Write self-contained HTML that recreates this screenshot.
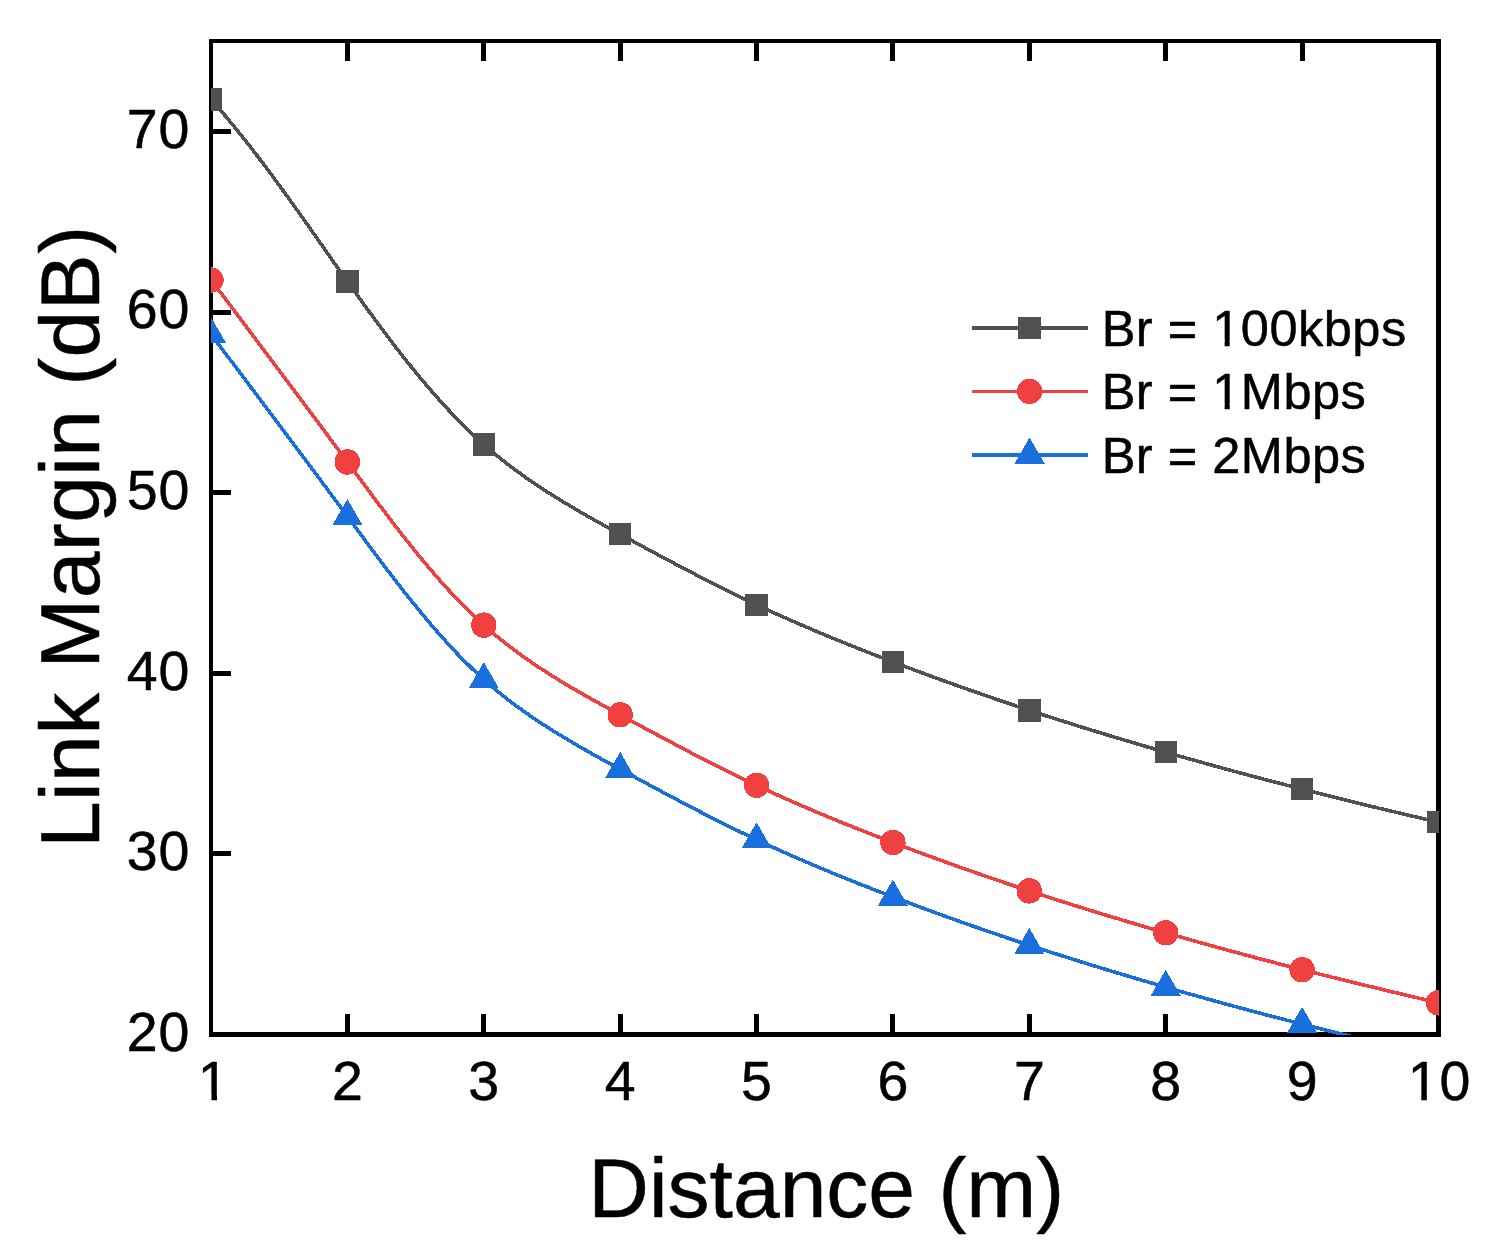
<!DOCTYPE html>
<html lang="en"><head><meta charset="utf-8"><title>Link Margin vs Distance</title>
<style>
html,body{margin:0;padding:0;background:#fff;}
body{width:1494px;height:1257px;overflow:hidden;}
svg{display:block;}
text{font-family:"Liberation Sans",sans-serif;fill:#000;stroke:#000;stroke-width:0.5px;stroke-linejoin:round;}
.tick{font-size:55.5px;letter-spacing:1.1px;}
.title{font-size:84px;}
.leg{font-size:50.5px;letter-spacing:0.5px;}
</style></head><body>
<svg width="1494" height="1257" viewBox="0 0 1494 1257">
<rect x="0" y="0" width="1494" height="1257" fill="#fff"/>
<defs><clipPath id="plot"><rect x="211" y="41" width="1228" height="994"/></clipPath>
<clipPath id="nofoot"><path clip-rule="evenodd" d="M0 0H1494V1257H0ZM200.25 1094.17H211.47V1103.00H200.25ZM216.98 1094.17H227.63V1103.00H216.98ZM1410.07 1094.17H1421.29V1103.00H1410.07ZM1426.79 1094.17H1437.44V1103.00H1426.79ZM1214.47 340.30H1224.65V348.60H1214.47ZM1229.71 340.30H1239.37V348.60H1229.71ZM1214.47 403.90H1224.65V412.20H1214.47ZM1229.71 403.90H1239.37V412.20H1229.71Z"/></clipPath></defs>

<g fill="#000" shape-rendering="crispEdges">
<rect x="209" y="39" width="4" height="998"/>
<rect x="209" y="39" width="1232" height="4"/>
<rect x="1436" y="39" width="5" height="998"/>
<rect x="209" y="1032" width="1232" height="5"/>
<rect x="345" y="43" width="5" height="18"/>
<rect x="345" y="1014" width="5" height="18"/>
<rect x="481" y="43" width="5" height="18"/>
<rect x="481" y="1014" width="5" height="18"/>
<rect x="618" y="43" width="5" height="18"/>
<rect x="618" y="1014" width="5" height="18"/>
<rect x="754" y="43" width="5" height="18"/>
<rect x="754" y="1014" width="5" height="18"/>
<rect x="890" y="43" width="5" height="18"/>
<rect x="890" y="1014" width="5" height="18"/>
<rect x="1027" y="43" width="5" height="18"/>
<rect x="1027" y="1014" width="5" height="18"/>
<rect x="1163" y="43" width="5" height="18"/>
<rect x="1163" y="1014" width="5" height="18"/>
<rect x="1300" y="43" width="5" height="18"/>
<rect x="1300" y="1014" width="5" height="18"/>
<rect x="213" y="851" width="18" height="5"/>
<rect x="213" y="671" width="18" height="5"/>
<rect x="213" y="490" width="18" height="5"/>
<rect x="213" y="310" width="18" height="5"/>
<rect x="213" y="129" width="18" height="5"/>
</g>
<g clip-path="url(#plot)" shape-rendering="crispEdges">
<path d="M211.0,99.4 L213.6,102.3 L216.4,105.5 L219.0,108.5 L221.8,111.8 L224.4,114.8 L227.2,118.1 L229.7,121.2 L232.5,124.5 L235.1,127.7 L237.8,131.1 L240.4,134.2 L243.1,137.7 L245.6,140.8 L248.4,144.3 L250.9,147.6 L253.6,151.1 L256.1,154.3 L258.8,157.9 L261.5,161.5 L264.0,164.8 L266.7,168.4 L269.2,171.7 L271.9,175.3 L274.4,178.7 L277.1,182.3 L279.5,185.7 L282.2,189.4 L284.7,192.8 L287.3,196.5 L289.8,199.9 L292.5,203.6 L294.9,207.1 L297.6,210.8 L300.0,214.2 L302.7,218.0 L305.3,221.7 L307.8,225.2 L310.4,228.9 L312.9,232.4 L315.5,236.2 L318.0,239.6 L320.6,243.4 L323.1,246.9 L325.7,250.7 L328.1,254.1 L330.8,257.9 L333.2,261.4 L335.9,265.1 L338.3,268.6 L341.0,272.4 L343.4,275.8 L346.1,279.6 L348.8,283.3 L351.2,286.8 L353.9,290.5 L356.3,293.9 L359.0,297.7 L361.5,301.1 L364.1,304.8 L366.6,308.2 L369.3,311.9 L371.8,315.2 L374.4,318.9 L376.9,322.3 L379.6,325.9 L382.1,329.2 L384.8,332.8 L387.3,336.2 L390.0,339.7 L392.7,343.3 L395.3,346.6 L398.0,350.1 L400.5,353.3 L403.2,356.8 L405.8,360.0 L408.5,363.5 L411.1,366.6 L413.9,370.1 L416.4,373.2 L419.2,376.6 L421.8,379.6 L424.6,383.0 L427.1,386.0 L430.0,389.3 L432.6,392.3 L435.4,395.5 L438.2,398.7 L440.9,401.6 L443.7,404.8 L446.3,407.6 L449.2,410.7 L451.9,413.5 L454.8,416.6 L457.5,419.3 L460.4,422.3 L463.1,425.0 L466.0,427.9 L468.7,430.5 L471.7,433.4 L474.4,435.9 L477.4,438.7 L480.1,441.2 L483.1,443.9 L485.9,446.4 L488.9,449.0 L492.0,451.5 L494.8,453.9 L497.8,456.4 L500.7,458.7 L503.7,461.1 L506.6,463.4 L509.7,465.7 L512.6,467.9 L515.7,470.2 L518.6,472.3 L521.7,474.6 L524.6,476.7 L527.7,478.9 L530.7,480.9 L533.8,483.1 L536.8,485.0 L539.9,487.2 L543.1,489.2 L546.1,491.2 L549.3,493.2 L552.2,495.1 L555.4,497.1 L558.4,498.9 L561.6,500.9 L564.6,502.7 L567.9,504.6 L570.8,506.4 L574.1,508.3 L577.1,510.1 L580.3,512.0 L583.3,513.7 L586.6,515.6 L589.6,517.3 L592.8,519.1 L596.1,521.0 L599.1,522.6 L602.4,524.5 L605.4,526.1 L608.7,527.9 L611.7,529.6 L615.0,531.4 L618.0,533.0 L621.3,534.8 L624.3,536.5 L627.5,538.3 L630.6,539.9 L633.8,541.7 L636.8,543.3 L640.1,545.1 L643.1,546.7 L646.4,548.5 L649.7,550.3 L652.7,551.9 L656.0,553.7 L659.0,555.3 L662.3,557.0 L665.3,558.6 L668.6,560.4 L671.6,562.0 L674.9,563.7 L677.9,565.3 L681.2,567.0 L684.2,568.6 L687.5,570.3 L690.5,571.9 L693.8,573.6 L696.8,575.2 L700.1,576.9 L703.4,578.6 L706.4,580.1 L709.7,581.8 L712.7,583.3 L716.0,585.0 L719.0,586.5 L722.3,588.2 L725.4,589.7 L728.7,591.3 L731.7,592.8 L735.0,594.4 L738.1,595.9 L741.4,597.5 L744.4,599.0 L747.7,600.6 L750.8,602.0 L754.1,603.6 L757.4,605.1 L760.4,606.6 L763.8,608.1 L766.8,609.5 L770.1,611.0 L773.2,612.4 L776.5,614.0 L779.6,615.3 L782.9,616.8 L786.0,618.2 L789.3,619.7 L792.4,621.0 L795.7,622.5 L798.8,623.8 L802.2,625.3 L805.2,626.6 L808.6,628.0 L811.7,629.4 L815.0,630.8 L818.4,632.2 L821.4,633.5 L824.8,634.9 L827.9,636.2 L831.2,637.5 L834.3,638.8 L837.7,640.2 L840.8,641.4 L844.1,642.8 L847.2,644.1 L850.6,645.4 L853.7,646.6 L857.0,648.0 L860.1,649.2 L863.5,650.5 L866.6,651.8 L870.0,653.1 L873.3,654.4 L876.4,655.6 L879.8,656.9 L882.9,658.1 L886.3,659.4 L889.4,660.6 L892.8,661.9 L895.9,663.1 L899.2,664.3 L902.3,665.5 L905.7,666.8 L908.8,667.9 L912.2,669.2 L915.3,670.4 L918.7,671.6 L921.8,672.8 L925.2,674.0 L928.5,675.3 L931.7,676.4 L935.0,677.6 L938.2,678.8 L941.5,680.0 L944.7,681.1 L948.0,682.3 L951.2,683.4 L954.5,684.7 L957.7,685.8 L961.0,687.0 L964.2,688.1 L967.5,689.3 L970.7,690.4 L974.0,691.5 L977.2,692.6 L980.6,693.8 L983.9,695.0 L987.1,696.1 L990.5,697.2 L993.6,698.3 L997.0,699.5 L1000.1,700.5 L1003.5,701.7 L1006.6,702.7 L1010.0,703.9 L1013.1,704.9 L1016.5,706.1 L1019.7,707.1 L1023.1,708.2 L1026.2,709.3 L1029.6,710.4 L1032.7,711.4 L1036.1,712.5 L1039.5,713.6 L1042.6,714.7 L1046.0,715.8 L1049.2,716.8 L1052.6,717.9 L1055.7,718.9 L1059.1,720.0 L1062.3,721.0 L1065.7,722.0 L1068.8,723.0 L1072.2,724.1 L1075.3,725.1 L1078.7,726.2 L1081.9,727.1 L1085.3,728.2 L1088.4,729.2 L1091.8,730.2 L1095.2,731.3 L1098.4,732.2 L1101.8,733.3 L1104.9,734.2 L1108.3,735.3 L1111.5,736.2 L1114.9,737.2 L1118.0,738.2 L1121.5,739.2 L1124.6,740.2 L1128.0,741.2 L1131.2,742.1 L1134.6,743.1 L1137.7,744.1 L1141.1,745.1 L1144.3,746.0 L1147.7,747.0 L1150.9,747.9 L1154.3,748.9 L1157.7,749.9 L1160.8,750.8 L1164.2,751.8 L1167.4,752.7 L1170.8,753.7 L1174.0,754.6 L1177.4,755.5 L1180.5,756.4 L1184.0,757.4 L1187.1,758.3 L1190.5,759.2 L1193.7,760.1 L1197.1,761.1 L1200.3,762.0 L1203.7,762.9 L1206.8,763.8 L1210.3,764.7 L1213.7,765.7 L1216.8,766.6 L1220.3,767.5 L1223.4,768.4 L1226.8,769.3 L1230.0,770.2 L1233.4,771.1 L1236.6,771.9 L1240.0,772.9 L1243.2,773.7 L1246.6,774.6 L1249.7,775.5 L1253.2,776.4 L1256.3,777.2 L1259.7,778.1 L1262.9,779.0 L1266.3,779.9 L1269.8,780.8 L1272.9,781.6 L1276.4,782.5 L1279.5,783.3 L1282.9,784.2 L1286.1,785.0 L1289.5,785.9 L1292.7,786.7 L1296.1,787.6 L1299.3,788.4 L1302.7,789.3 L1305.9,790.1 L1309.3,791.0 L1312.5,791.8 L1315.9,792.7 L1319.1,793.5 L1322.5,794.3 L1325.9,795.2 L1329.1,796.0 L1332.5,796.8 L1335.7,797.6 L1339.1,798.5 L1342.3,799.3 L1345.7,800.1 L1348.9,800.9 L1352.3,801.7 L1355.5,802.5 L1358.9,803.3 L1362.1,804.1 L1365.5,805.0 L1368.7,805.7 L1372.1,806.6 L1375.3,807.3 L1378.8,808.2 L1382.2,809.0 L1385.4,809.7 L1388.8,810.6 L1392.0,811.3 L1395.4,812.1 L1398.6,812.9 L1402.0,813.7 L1405.2,814.4 L1408.6,815.3 L1411.8,816.0 L1415.2,816.8 L1418.4,817.5 L1421.8,818.3 L1425.0,819.1 L1428.4,819.9 L1431.6,820.6 L1435.1,821.4 L1438.5,822.2" fill="none" stroke="#515151" stroke-width="3.6" stroke-linejoin="round"/>
<rect x="199.8" y="88.2" width="22.4" height="22.4" fill="#515151"/>
<rect x="336.2" y="270.2" width="22.4" height="22.4" fill="#515151"/>
<rect x="472.6" y="433.3" width="22.4" height="22.4" fill="#515151"/>
<rect x="609.0" y="523.0" width="22.4" height="22.4" fill="#515151"/>
<rect x="745.4" y="593.5" width="22.4" height="22.4" fill="#515151"/>
<rect x="881.7" y="650.7" width="22.4" height="22.4" fill="#515151"/>
<rect x="1018.1" y="699.1" width="22.4" height="22.4" fill="#515151"/>
<rect x="1154.5" y="741.0" width="22.4" height="22.4" fill="#515151"/>
<rect x="1290.9" y="778.0" width="22.4" height="22.4" fill="#515151"/>
<rect x="1427.3" y="811.0" width="22.4" height="22.4" fill="#515151"/>
<path d="M211.0,280.0 L213.5,283.3 L216.2,286.8 L218.7,290.2 L221.4,293.7 L223.9,297.0 L226.6,300.6 L229.1,303.9 L231.8,307.5 L234.3,310.8 L237.0,314.4 L239.5,317.7 L242.2,321.3 L244.7,324.6 L247.4,328.2 L249.8,331.5 L252.5,335.1 L255.0,338.4 L257.7,342.0 L260.4,345.6 L262.9,348.9 L265.6,352.5 L268.1,355.8 L270.8,359.4 L273.3,362.7 L276.0,366.3 L278.5,369.6 L281.2,373.2 L283.7,376.6 L286.4,380.1 L288.9,383.5 L291.6,387.1 L294.1,390.4 L296.8,394.0 L299.3,397.3 L301.9,400.9 L304.6,404.5 L307.1,407.9 L309.8,411.5 L312.3,414.8 L315.0,418.4 L317.5,421.8 L320.2,425.4 L322.7,428.7 L325.4,432.3 L327.9,435.7 L330.6,439.3 L333.0,442.6 L335.7,446.3 L338.2,449.6 L340.9,453.2 L343.4,456.6 L346.1,460.2 L348.8,463.9 L351.3,467.2 L353.9,470.9 L356.4,474.2 L359.1,477.9 L361.6,481.2 L364.3,484.8 L366.8,488.2 L369.5,491.8 L372.0,495.2 L374.7,498.8 L377.2,502.1 L379.9,505.7 L382.4,509.0 L385.1,512.6 L387.6,515.9 L390.3,519.5 L393.0,523.0 L395.5,526.3 L398.3,529.8 L400.8,533.0 L403.5,536.5 L406.1,539.8 L408.8,543.2 L411.3,546.4 L414.1,549.8 L416.7,553.0 L419.4,556.4 L422.0,559.5 L424.8,562.8 L427.4,565.9 L430.2,569.2 L432.8,572.2 L435.6,575.5 L438.4,578.7 L441.0,581.7 L443.9,584.9 L446.5,587.8 L449.4,590.9 L452.0,593.8 L454.9,596.8 L457.5,599.6 L460.4,602.6 L463.1,605.4 L466.1,608.3 L468.8,611.0 L471.7,613.8 L474.4,616.4 L477.4,619.2 L480.1,621.8 L483.1,624.5 L485.9,627.0 L488.9,629.6 L491.9,632.2 L494.8,634.6 L497.8,637.1 L500.6,639.4 L503.7,641.9 L506.6,644.1 L509.6,646.5 L512.5,648.7 L515.6,651.0 L518.5,653.1 L521.6,655.4 L524.5,657.5 L527.7,659.7 L530.6,661.7 L533.8,663.9 L536.7,665.8 L539.9,668.0 L543.1,670.0 L546.0,671.9 L549.2,674.0 L552.2,675.9 L555.4,677.9 L558.4,679.7 L561.6,681.7 L564.6,683.5 L567.8,685.4 L570.8,687.2 L574.0,689.1 L577.0,690.8 L580.3,692.7 L583.3,694.4 L586.6,696.3 L589.6,698.0 L592.8,699.8 L596.1,701.6 L599.1,703.3 L602.4,705.1 L605.4,706.8 L608.7,708.6 L611.7,710.2 L615.0,712.0 L618.0,713.6 L621.3,715.4 L624.3,717.1 L627.5,718.9 L630.6,720.5 L633.8,722.3 L636.9,723.9 L640.1,725.7 L643.1,727.3 L646.4,729.1 L649.7,730.8 L652.7,732.5 L656.0,734.2 L659.0,735.8 L662.3,737.6 L665.3,739.2 L668.6,740.9 L671.6,742.5 L674.9,744.3 L677.9,745.9 L681.2,747.6 L684.2,749.2 L687.5,750.9 L690.5,752.5 L693.8,754.2 L696.8,755.8 L700.1,757.4 L703.4,759.1 L706.4,760.7 L709.7,762.4 L712.7,763.9 L716.0,765.6 L719.1,767.1 L722.3,768.7 L725.4,770.2 L728.7,771.9 L731.7,773.4 L735.0,775.0 L738.1,776.5 L741.4,778.1 L744.4,779.6 L747.7,781.1 L750.8,782.6 L754.1,784.2 L757.4,785.7 L760.4,787.2 L763.8,788.7 L766.8,790.1 L770.1,791.7 L773.2,793.1 L776.5,794.6 L779.6,795.9 L782.9,797.4 L786.0,798.8 L789.3,800.3 L792.4,801.6 L795.7,803.1 L798.8,804.4 L802.2,805.9 L805.2,807.2 L808.6,808.6 L811.7,810.0 L815.0,811.4 L818.3,812.8 L821.4,814.1 L824.8,815.5 L827.9,816.8 L831.2,818.2 L834.3,819.4 L837.7,820.8 L840.8,822.1 L844.1,823.4 L847.2,824.7 L850.6,826.0 L853.7,827.3 L857.0,828.6 L860.1,829.8 L863.5,831.1 L866.6,832.4 L870.0,833.7 L873.3,835.0 L876.4,836.2 L879.8,837.5 L882.9,838.7 L886.3,840.0 L889.4,841.2 L892.8,842.5 L895.9,843.7 L899.2,844.9 L902.3,846.1 L905.7,847.4 L908.8,848.5 L912.2,849.8 L915.3,851.0 L918.7,852.2 L921.8,853.4 L925.2,854.6 L928.5,855.9 L931.7,857.0 L935.0,858.2 L938.2,859.4 L941.5,860.6 L944.7,861.7 L948.0,862.9 L951.2,864.0 L954.5,865.3 L957.7,866.4 L961.0,867.6 L964.2,868.7 L967.5,869.9 L970.7,871.0 L974.0,872.1 L977.2,873.2 L980.6,874.4 L983.9,875.6 L987.1,876.7 L990.5,877.8 L993.6,878.9 L997.0,880.1 L1000.1,881.1 L1003.5,882.3 L1006.6,883.3 L1010.0,884.5 L1013.1,885.5 L1016.5,886.7 L1019.7,887.7 L1023.1,888.8 L1026.2,889.9 L1029.6,891.0 L1032.7,892.0 L1036.1,893.1 L1039.5,894.2 L1042.6,895.3 L1046.0,896.4 L1049.2,897.4 L1052.6,898.5 L1055.7,899.5 L1059.1,900.6 L1062.3,901.6 L1065.7,902.6 L1068.8,903.6 L1072.2,904.7 L1075.3,905.7 L1078.7,906.7 L1081.9,907.7 L1085.3,908.8 L1088.4,909.8 L1091.8,910.8 L1095.2,911.9 L1098.4,912.8 L1101.8,913.9 L1104.9,914.8 L1108.3,915.9 L1111.5,916.8 L1114.9,917.8 L1118.1,918.8 L1121.5,919.8 L1124.6,920.7 L1128.0,921.8 L1131.2,922.7 L1134.6,923.7 L1137.7,924.6 L1141.1,925.6 L1144.3,926.6 L1147.7,927.6 L1150.9,928.5 L1154.3,929.5 L1157.7,930.5 L1160.8,931.4 L1164.2,932.4 L1167.4,933.3 L1170.8,934.3 L1174.0,935.2 L1177.4,936.1 L1180.5,937.0 L1184.0,938.0 L1187.1,938.9 L1190.5,939.9 L1193.7,940.8 L1197.1,941.7 L1200.3,942.6 L1203.7,943.5 L1206.8,944.4 L1210.2,945.4 L1213.7,946.3 L1216.8,947.2 L1220.2,948.1 L1223.4,949.0 L1226.8,949.9 L1230.0,950.8 L1233.4,951.7 L1236.6,952.6 L1240.0,953.5 L1243.2,954.3 L1246.6,955.3 L1249.7,956.1 L1253.2,957.0 L1256.3,957.9 L1259.7,958.8 L1262.9,959.6 L1266.3,960.5 L1269.8,961.4 L1272.9,962.2 L1276.3,963.1 L1279.5,964.0 L1282.9,964.8 L1286.1,965.7 L1289.5,966.5 L1292.7,967.4 L1296.1,968.2 L1299.3,969.0 L1302.7,969.9 L1305.9,970.7 L1309.3,971.6 L1312.5,972.4 L1315.9,973.2 L1319.1,974.0 L1322.5,974.9 L1325.9,975.7 L1329.1,976.5 L1332.5,977.4 L1335.7,978.1 L1339.1,979.0 L1342.3,979.8 L1345.7,980.6 L1348.9,981.4 L1352.3,982.2 L1355.5,983.0 L1359.0,983.8 L1362.1,984.6 L1365.6,985.4 L1368.7,986.2 L1372.2,987.0 L1375.3,987.8 L1378.8,988.6 L1382.2,989.4 L1385.4,990.2 L1388.8,991.0 L1392.0,991.8 L1395.4,992.6 L1398.6,993.3 L1402.0,994.2 L1405.2,994.9 L1408.6,995.7 L1411.8,996.5 L1415.2,997.3 L1418.4,998.1 L1421.8,998.9 L1425.0,999.6 L1428.5,1000.4 L1431.6,1001.2 L1435.1,1002.0 L1438.5,1002.8" fill="none" stroke="#F14040" stroke-width="3.6" stroke-linejoin="round"/>
<circle cx="211.0" cy="280.0" r="12.7" fill="#F14040"/>
<circle cx="347.4" cy="462.0" r="12.7" fill="#F14040"/>
<circle cx="483.8" cy="625.1" r="12.7" fill="#F14040"/>
<circle cx="620.2" cy="714.8" r="12.7" fill="#F14040"/>
<circle cx="756.6" cy="785.3" r="12.7" fill="#F14040"/>
<circle cx="892.9" cy="842.5" r="12.7" fill="#F14040"/>
<circle cx="1029.3" cy="890.9" r="12.7" fill="#F14040"/>
<circle cx="1165.7" cy="932.8" r="12.7" fill="#F14040"/>
<circle cx="1302.1" cy="969.8" r="12.7" fill="#F14040"/>
<circle cx="1438.5" cy="1002.8" r="12.7" fill="#F14040"/>
<path d="M211.0,334.3 L213.5,337.6 L216.2,341.2 L218.7,344.5 L221.4,348.1 L223.9,351.4 L226.6,355.0 L229.1,358.3 L231.8,361.9 L234.3,365.2 L237.0,368.8 L239.5,372.1 L242.2,375.7 L244.7,379.0 L247.4,382.6 L249.8,385.9 L252.5,389.5 L255.0,392.8 L257.7,396.4 L260.4,400.0 L262.9,403.3 L265.6,406.9 L268.1,410.2 L270.8,413.8 L273.3,417.1 L276.0,420.7 L278.5,424.0 L281.2,427.6 L283.7,430.9 L286.4,434.5 L288.9,437.8 L291.6,441.4 L294.1,444.8 L296.8,448.4 L299.3,451.7 L301.9,455.3 L304.6,458.9 L307.1,462.2 L309.8,465.8 L312.3,469.2 L315.0,472.8 L317.5,476.1 L320.2,479.7 L322.7,483.1 L325.4,486.7 L327.9,490.0 L330.6,493.7 L333.0,497.0 L335.7,500.6 L338.2,504.0 L340.9,507.6 L343.4,511.0 L346.1,514.6 L348.8,518.2 L351.3,521.6 L353.9,525.2 L356.4,528.6 L359.1,532.2 L361.6,535.6 L364.3,539.2 L366.8,542.6 L369.5,546.2 L372.0,549.5 L374.7,553.1 L377.2,556.5 L379.9,560.1 L382.4,563.4 L385.1,567.0 L387.6,570.3 L390.3,573.8 L393.0,577.4 L395.5,580.6 L398.3,584.2 L400.8,587.4 L403.5,590.9 L406.1,594.1 L408.8,597.6 L411.3,600.8 L414.1,604.2 L416.7,607.3 L419.4,610.7 L422.0,613.8 L424.8,617.2 L427.4,620.3 L430.2,623.6 L432.8,626.6 L435.6,629.9 L438.4,633.1 L441.0,636.1 L443.9,639.2 L446.5,642.1 L449.4,645.3 L452.0,648.1 L454.9,651.2 L457.5,654.0 L460.4,657.0 L463.1,659.7 L466.1,662.7 L468.8,665.3 L471.7,668.2 L474.4,670.8 L477.4,673.6 L480.1,676.1 L483.1,678.9 L485.9,681.3 L488.9,684.0 L491.9,686.6 L494.8,688.9 L497.8,691.5 L500.6,693.8 L503.7,696.2 L506.6,698.5 L509.6,700.9 L512.5,703.0 L515.6,705.4 L518.5,707.5 L521.6,709.8 L524.5,711.8 L527.7,714.0 L530.6,716.1 L533.8,718.2 L536.7,720.2 L539.9,722.3 L543.1,724.4 L546.0,726.3 L549.2,728.4 L552.2,730.2 L555.4,732.2 L558.4,734.1 L561.6,736.0 L564.6,737.8 L567.8,739.8 L570.8,741.5 L574.0,743.4 L577.0,745.2 L580.3,747.0 L583.3,748.8 L586.6,750.6 L589.6,752.3 L592.8,754.2 L596.1,756.0 L599.1,757.7 L602.4,759.5 L605.4,761.1 L608.7,762.9 L611.7,764.6 L615.0,766.4 L618.0,768.0 L621.3,769.8 L624.3,771.4 L627.5,773.2 L630.6,774.9 L633.8,776.6 L636.9,778.3 L640.1,780.0 L643.1,781.7 L646.4,783.4 L649.7,785.2 L652.7,786.8 L656.0,788.6 L659.0,790.2 L662.3,791.9 L665.3,793.6 L668.6,795.3 L671.6,796.9 L674.9,798.6 L677.9,800.2 L681.2,802.0 L684.2,803.5 L687.5,805.3 L690.5,806.8 L693.8,808.5 L696.8,810.1 L700.1,811.8 L703.4,813.5 L706.4,815.0 L709.7,816.7 L712.7,818.3 L716.0,819.9 L719.1,821.4 L722.3,823.1 L725.4,824.6 L728.7,826.2 L731.7,827.7 L735.0,829.4 L738.1,830.8 L741.4,832.5 L744.4,833.9 L747.7,835.5 L750.8,837.0 L754.1,838.5 L757.4,840.1 L760.4,841.5 L763.8,843.1 L766.8,844.5 L770.1,846.0 L773.2,847.4 L776.5,848.9 L779.6,850.3 L782.9,851.8 L786.0,853.2 L789.3,854.6 L792.4,856.0 L795.7,857.5 L798.8,858.8 L802.2,860.2 L805.2,861.6 L808.6,863.0 L811.7,864.3 L815.0,865.7 L818.3,867.2 L821.4,868.4 L824.8,869.8 L827.9,871.1 L831.2,872.5 L834.3,873.8 L837.7,875.2 L840.8,876.4 L844.1,877.8 L847.2,879.0 L850.6,880.4 L853.7,881.6 L857.0,883.0 L860.1,884.2 L863.5,885.5 L866.6,886.7 L870.0,888.0 L873.3,889.4 L876.4,890.6 L879.8,891.9 L882.9,893.1 L886.3,894.4 L889.4,895.5 L892.8,896.8 L895.9,898.0 L899.2,899.3 L902.3,900.5 L905.7,901.7 L908.8,902.9 L912.2,904.2 L915.3,905.3 L918.7,906.6 L921.8,907.7 L925.2,909.0 L928.5,910.2 L931.7,911.4 L935.0,912.6 L938.2,913.7 L941.5,914.9 L944.7,916.1 L948.0,917.3 L951.2,918.4 L954.5,919.6 L957.7,920.7 L961.0,921.9 L964.2,923.0 L967.5,924.2 L970.7,925.3 L974.0,926.5 L977.2,927.6 L980.6,928.8 L983.9,929.9 L987.1,931.0 L990.5,932.2 L993.6,933.3 L997.0,934.4 L1000.1,935.5 L1003.5,936.6 L1006.6,937.7 L1010.0,938.8 L1013.1,939.9 L1016.5,941.0 L1019.7,942.1 L1023.1,943.2 L1026.2,944.2 L1029.6,945.4 L1032.7,946.4 L1036.1,947.5 L1039.5,948.6 L1042.6,949.6 L1046.0,950.7 L1049.2,951.7 L1052.6,952.8 L1055.7,953.8 L1059.1,954.9 L1062.3,955.9 L1065.7,957.0 L1068.8,958.0 L1072.2,959.1 L1075.3,960.0 L1078.7,961.1 L1081.9,962.1 L1085.3,963.1 L1088.4,964.1 L1091.8,965.2 L1095.2,966.2 L1098.4,967.2 L1101.8,968.2 L1104.9,969.2 L1108.3,970.2 L1111.5,971.2 L1114.9,972.2 L1118.1,973.1 L1121.5,974.2 L1124.6,975.1 L1128.0,976.1 L1131.2,977.1 L1134.6,978.1 L1137.7,979.0 L1141.1,980.0 L1144.3,980.9 L1147.7,981.9 L1150.9,982.9 L1154.3,983.8 L1157.7,984.8 L1160.8,985.7 L1164.2,986.7 L1167.4,987.6 L1170.8,988.6 L1174.0,989.5 L1177.4,990.5 L1180.5,991.4 L1184.0,992.4 L1187.1,993.3 L1190.5,994.2 L1193.7,995.1 L1197.1,996.1 L1200.3,997.0 L1203.7,997.9 L1206.8,998.8 L1210.2,999.7 L1213.7,1000.7 L1216.8,1001.5 L1220.2,1002.5 L1223.4,1003.4 L1226.8,1004.3 L1230.0,1005.1 L1233.4,1006.1 L1236.6,1006.9 L1240.0,1007.9 L1243.2,1008.7 L1246.6,1009.6 L1249.7,1010.5 L1253.2,1011.4 L1256.3,1012.2 L1259.7,1013.1 L1262.9,1014.0 L1266.3,1014.9 L1269.8,1015.8 L1272.9,1016.6 L1276.3,1017.5 L1279.5,1018.3 L1282.9,1019.2 L1286.1,1020.0 L1289.5,1020.9 L1292.7,1021.7 L1296.1,1022.6 L1299.3,1023.4 L1302.7,1024.3 L1305.9,1025.1 L1309.3,1025.9 L1312.5,1026.7 L1315.9,1027.6 L1319.1,1028.4 L1322.5,1029.2 L1325.9,1030.1 L1329.1,1030.9 L1332.5,1031.7 L1335.7,1032.5 L1339.1,1033.4 L1342.3,1034.1 L1345.7,1035.0 L1348.9,1035.7 L1352.3,1036.6 L1355.5,1037.4 L1359.0,1038.2 L1362.1,1039.0 L1365.6,1039.8 L1368.7,1040.6 L1372.2,1041.4 L1375.3,1042.1 L1378.8,1043.0 L1382.2,1043.8 L1385.4,1044.6 L1388.8,1045.4 L1392.0,1046.1 L1395.4,1046.9 L1398.6,1047.7 L1402.0,1048.5 L1405.2,1049.3 L1408.6,1050.1 L1411.8,1050.8 L1415.2,1051.7 L1418.4,1052.4 L1421.8,1053.2 L1425.0,1054.0 L1428.5,1054.8 L1431.6,1055.5 L1435.1,1056.4 L1438.5,1057.2" fill="none" stroke="#1A6FDF" stroke-width="3.6" stroke-linejoin="round"/>
<polygon points="211.0,317.0 196.0,343.0 226.0,343.0" fill="#1A6FDF"/>
<polygon points="347.4,499.0 332.4,525.0 362.4,525.0" fill="#1A6FDF"/>
<polygon points="483.8,662.1 468.8,688.1 498.8,688.1" fill="#1A6FDF"/>
<polygon points="620.2,751.9 605.2,777.9 635.2,777.9" fill="#1A6FDF"/>
<polygon points="756.6,822.4 741.6,848.4 771.6,848.4" fill="#1A6FDF"/>
<polygon points="892.9,879.6 877.9,905.6 907.9,905.6" fill="#1A6FDF"/>
<polygon points="1029.3,927.9 1014.3,953.9 1044.3,953.9" fill="#1A6FDF"/>
<polygon points="1165.7,969.8 1150.7,995.8 1180.7,995.8" fill="#1A6FDF"/>
<polygon points="1302.1,1006.8 1287.1,1032.8 1317.1,1032.8" fill="#1A6FDF"/>
<polygon points="1438.5,1039.8 1423.5,1065.8 1453.5,1065.8" fill="#1A6FDF"/>
</g>
<g clip-path="url(#nofoot)">
<text class="tick" x="213.8" y="1100" text-anchor="middle">1</text>
<text class="tick" x="347.9" y="1100" text-anchor="middle">2</text>
<text class="tick" x="484.3" y="1100" text-anchor="middle">3</text>
<text class="tick" x="620.7" y="1100" text-anchor="middle">4</text>
<text class="tick" x="757.1" y="1100" text-anchor="middle">5</text>
<text class="tick" x="893.5" y="1100" text-anchor="middle">6</text>
<text class="tick" x="1029.9" y="1100" text-anchor="middle">7</text>
<text class="tick" x="1166.3" y="1100" text-anchor="middle">8</text>
<text class="tick" x="1302.7" y="1100" text-anchor="middle">9</text>
<text class="tick" x="1439.6" y="1100" text-anchor="middle">10</text>
<text class="tick" x="190.6" y="1050.7" text-anchor="end">20</text>
<text class="tick" x="190.6" y="870.1" text-anchor="end">30</text>
<text class="tick" x="190.6" y="689.5" text-anchor="end">40</text>
<text class="tick" x="190.6" y="508.9" text-anchor="end">50</text>
<text class="tick" x="190.6" y="328.3" text-anchor="end">60</text>
<text class="tick" x="190.6" y="147.7" text-anchor="end">70</text>
</g>
<text class="title" x="826.3" y="1217" text-anchor="middle">Distance (m)</text>
<text class="title" transform="translate(99,536.8) rotate(-90)" text-anchor="middle" style="letter-spacing:0.4px">Link Margin (dB)</text>
<g shape-rendering="crispEdges">
<line x1="972" y1="327.8" x2="1088" y2="327.8" stroke="#515151" stroke-width="3.4"/>
<rect x="1018.4" y="316.6" width="22.4" height="22.4" fill="#515151"/>
<line x1="972" y1="391.4" x2="1088" y2="391.4" stroke="#F14040" stroke-width="3.4"/>
<circle cx="1029.6" cy="391.4" r="12.7" fill="#F14040"/>
<line x1="972" y1="454.9" x2="1088" y2="454.9" stroke="#1A6FDF" stroke-width="3.4"/>
<polygon points="1029.6,437.6 1014.6,463.6 1044.6,463.6" fill="#1A6FDF"/>
</g>
<g clip-path="url(#nofoot)">
<text class="leg" x="1101.7" y="345.6">Br = 100kbps</text>
<text class="leg" x="1101.7" y="409.2">Br = 1Mbps</text>
<text class="leg" x="1101.7" y="472.7">Br = 2Mbps</text>
</g>
</svg></body></html>
